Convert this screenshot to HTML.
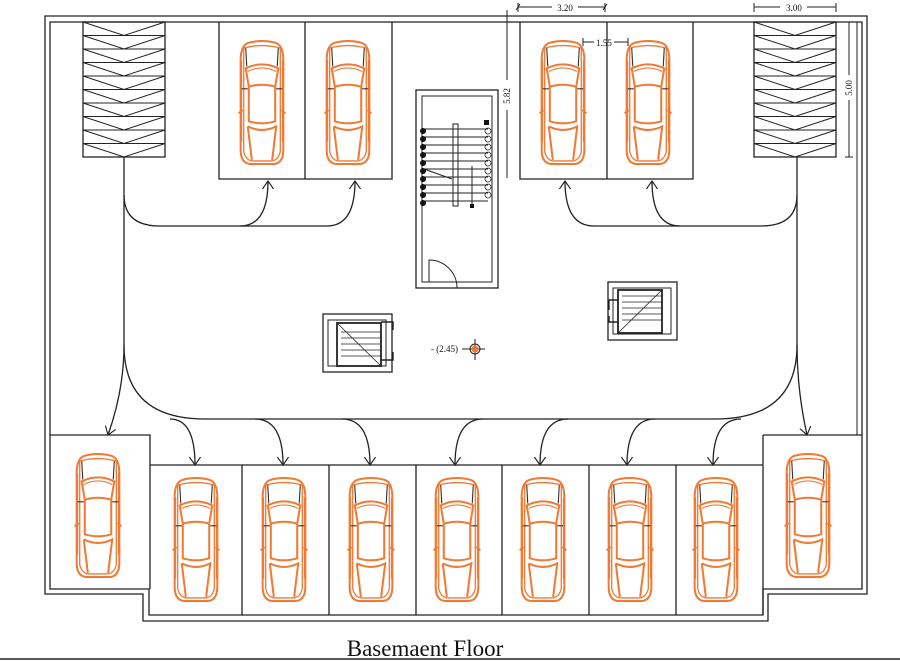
<!DOCTYPE html>
<html><head><meta charset="utf-8"><style>
html,body{margin:0;padding:0;background:#fff}
svg{display:block}
text{font-family:"Liberation Serif",serif;fill:#111}
</style></head><body>
<svg width="900" height="661" viewBox="0 0 900 661" xmlns="http://www.w3.org/2000/svg">
<defs>
<symbol id="car" viewBox="0 0 48 124">
<g fill="none" stroke="#f07a35" stroke-width="2">
<path d="M10 3 Q24 -1 38 3 Q45 6 45 20 L45 108 Q45 121 36 122 L12 122 Q3 121 3 108 L3 20 Q3 6 10 3Z"/>
<path d="M6 8 Q24 3 42 8 L42 110 Q40 118 34 119 L14 119 Q8 118 6 110Z" stroke-width="1.3"/>
<path d="M8 28 Q24 20 40 28 L37 46 Q24 42 11 46Z"/>
<path d="M10 31 Q24 24 38 31" stroke-width="1"/>
<path d="M11 46 L11 80 Q24 84 37 80 L37 46"/>
<path d="M10 85 Q24 92 38 85 L34 118 M10 85 L14 118"/>
<path d="M1 72 L5 69 M47 72 L43 69"/>
<path d="M4 20 L4 100 M44 20 L44 100" stroke-width="1"/>
</g>
<g stroke="#333" stroke-width="1.1"><path d="M8 8 L9 26 M40 8 L39 26 M4 48 L10 48 M44 48 L38 48"/></g>
</symbol>
<marker id="ah" viewBox="0 0 20 20" refX="10" refY="10" markerWidth="16" markerHeight="16" orient="auto" markerUnits="userSpaceOnUse">
<path d="M0 3 L10 10 L0 17" fill="none" stroke="#222" stroke-width="1.4"/>
</marker>
</defs>
<g fill="none" stroke="#222" stroke-width="1.3">
<path d="M45 594 L45 16 L867 16 L867 594 L768 594 L768 621 L143 621 L143 594 Z"/>
<path d="M50 589 L50 22 L862 22 L862 589 L763 589 L763 615 L149 615 L149 589 Z"/>
<path d="M857 22 L857 435" stroke-width="1"/>
<rect x="83" y="22" width="82" height="135"/>
<rect x="754" y="22" width="82" height="135"/>
<g stroke-width="1">
<path d="M83 35.5H165M83 49H165M83 62.5H165M83 76H165M83 89.5H165M83 103H165M83 116.5H165M83 130H165M83 143.5H165"/>
<path d="M83 22L124 35.5L165 22M83 35.5L124 49L165 35.5M83 49L124 62.5L165 49M83 62.5L124 76L165 62.5M83 76L124 89.5L165 76M83 89.5L124 103L165 89.5M83 103L124 116.5L165 103M83 116.5L124 130L165 116.5M83 130L124 143.5L165 130M83 143.5L124 157L165 143.5"/>
<path d="M754 35.5H836M754 49H836M754 62.5H836M754 76H836M754 89.5H836M754 103H836M754 116.5H836M754 130H836M754 143.5H836"/>
<path d="M754 22L795 35.5L836 22M754 35.5L795 49L836 35.5M754 49L795 62.5L836 49M754 62.5L795 76L836 62.5M754 76L795 89.5L836 76M754 89.5L795 103L836 89.5M754 103L795 116.5L836 103M754 116.5L795 130L836 116.5M754 130L795 143.5L836 130M754 143.5L795 157L836 143.5"/>
</g>
<path d="M219 22V179H392V22M305 22V179"/>
<path d="M520 22V179H693V22M607 22V179"/>
<path d="M50 435H150V589M150 465H763M242 465V615M329 465V615M416 465V615M502 465V615M589 465V615M676 465V615M763 435V615M763 435H862"/>
<rect x="416" y="90" width="82" height="198"/>
<rect x="422" y="96" width="70" height="186" stroke-width="1"/>
<path d="M429 282V260A28 28 0 0 1 457 288" stroke-width="1"/>
<g stroke-width="1"><path d="M424 129H488M424 137H488M424 145H488M424 153H488M424 161H488M424 169H488M424 177H488M424 185H488M424 193H488M424 201H488"/>
<rect x="453" y="124" width="5" height="82"/><path d="M424 169L452 179M472 166V205"/></g>
<g fill="#111" stroke="none"><rect x="484" y="120" width="5" height="5"/><rect x="470" y="204" width="4" height="4"/></g>
<g fill="#111" stroke="none"><circle cx="423" cy="131" r="3"/><circle cx="423" cy="139" r="3"/><circle cx="423" cy="147" r="3"/><circle cx="423" cy="155" r="3"/><circle cx="423" cy="163" r="3"/><circle cx="423" cy="171" r="3"/><circle cx="423" cy="179" r="3"/><circle cx="423" cy="187" r="3"/><circle cx="423" cy="195" r="3"/><circle cx="423" cy="203" r="3"/></g>
<g stroke-width="0.8"><circle cx="488" cy="131" r="3"/><circle cx="488" cy="139" r="3"/><circle cx="488" cy="147" r="3"/><circle cx="488" cy="155" r="3"/><circle cx="488" cy="163" r="3"/><circle cx="488" cy="171" r="3"/><circle cx="488" cy="179" r="3"/><circle cx="488" cy="187" r="3"/><circle cx="488" cy="195" r="3"/></g>
<rect x="323" y="314" width="69" height="58"/>
<rect x="328" y="320" width="58" height="46" stroke-width="1"/>
<rect x="337" y="323" width="44" height="43" stroke-width="1.8"/>
<path d="M337 323L381 366M341 332H381M341 338H381M341 344H381M341 350H381M341 356H381" stroke-width="0.8"/>
<path d="M381 322H393V330M381 360H393V352" stroke-width="1.4"/>
<rect x="608" y="282" width="69" height="58"/>
<rect x="613" y="288" width="58" height="46" stroke-width="1"/>
<rect x="618" y="290" width="44" height="43" stroke-width="1.8"/>
<path d="M618 333L662 290M622 296H662M622 302H662M622 308H662M622 314H662M622 320H662" stroke-width="0.8"/>
<path d="M618 300H609V310M618 322H609V316" stroke-width="1.4"/>
<path d="M124 157V195Q124 226 160 226H327Q355 226 355 181" marker-end="url(#ah)"/>
<path d="M240 226Q268 226 268 181" marker-end="url(#ah)"/>
<path d="M124 195V345Q124 419 205 419H715Q797 419 797 345V157"/>
<path d="M124 345Q124 390 108 435" marker-end="url(#ah)"/>
<path d="M170 419Q195 419 195 465" marker-end="url(#ah)"/>
<path d="M255 419Q283 419 283 465" marker-end="url(#ah)"/>
<path d="M342 419Q370 419 370 465" marker-end="url(#ah)"/>
<path d="M483 419Q455 419 455 465" marker-end="url(#ah)"/>
<path d="M568 419Q540 419 540 465" marker-end="url(#ah)"/>
<path d="M655 419Q627 419 627 465" marker-end="url(#ah)"/>
<path d="M741 419Q713 419 713 465" marker-end="url(#ah)"/>
<path d="M797 345Q797 390 807 435" marker-end="url(#ah)"/>
<path d="M797 195Q797 226 761 226H594Q565 226 565 181" marker-end="url(#ah)"/>
<path d="M680 226Q652 226 652 181" marker-end="url(#ah)"/>
<g stroke-width="1"><path d="M518 7H552M578 7H605M518 3V12M605 3V12M516 10L520 4M603 10L607 4"/>
<path d="M583 42H594M614 42H628M583 38V46M628 38V46"/>
<path d="M754 7H780M807 7H836M754 3V12M836 3V12"/>
<path d="M849 22V75M849 100V157M845 22H853M845 157H853"/>
<path d="M507 10V80M507 110V178"/></g>
<path d="M462 349H485M475 339V360" stroke-width="1"/>
<circle cx="475" cy="349" r="5" stroke-width="1"/>
<path d="M0 659H900" stroke-width="1.5"/>
</g>
<circle cx="475" cy="349" r="3.5" fill="#f07a35"/>
<use href="#car" x="237" y="40" width="50" height="126"/>
<use href="#car" x="323" y="40" width="50" height="126"/>
<use href="#car" x="538" y="40" width="50" height="126"/>
<use href="#car" x="623" y="40" width="50" height="126"/>
<use href="#car" x="73" y="453" width="50" height="126"/>
<use href="#car" x="171" y="477" width="50" height="126"/>
<use href="#car" x="259" y="477" width="50" height="126"/>
<use href="#car" x="346" y="477" width="50" height="126"/>
<use href="#car" x="432" y="477" width="50" height="126"/>
<use href="#car" x="518" y="477" width="50" height="126"/>
<use href="#car" x="605" y="477" width="50" height="126"/>
<use href="#car" x="691" y="477" width="50" height="126"/>
<use href="#car" x="783" y="453" width="50" height="126"/>
<text x="565" y="11" font-size="9" text-anchor="middle">3.20</text>
<text x="604" y="46" font-size="9" text-anchor="middle">1.55</text>
<text x="794" y="11" font-size="9" text-anchor="middle">3.00</text>
<text font-size="9" text-anchor="middle" transform="translate(852,88) rotate(-90)">5.00</text>
<text font-size="9" text-anchor="middle" transform="translate(510,96) rotate(-90)">5.82</text>
<text x="431" y="352" font-size="9">- (2.45)</text>
<text x="425" y="656" font-size="23" text-anchor="middle">Basemaent Floor</text>
</svg>
</body></html>
